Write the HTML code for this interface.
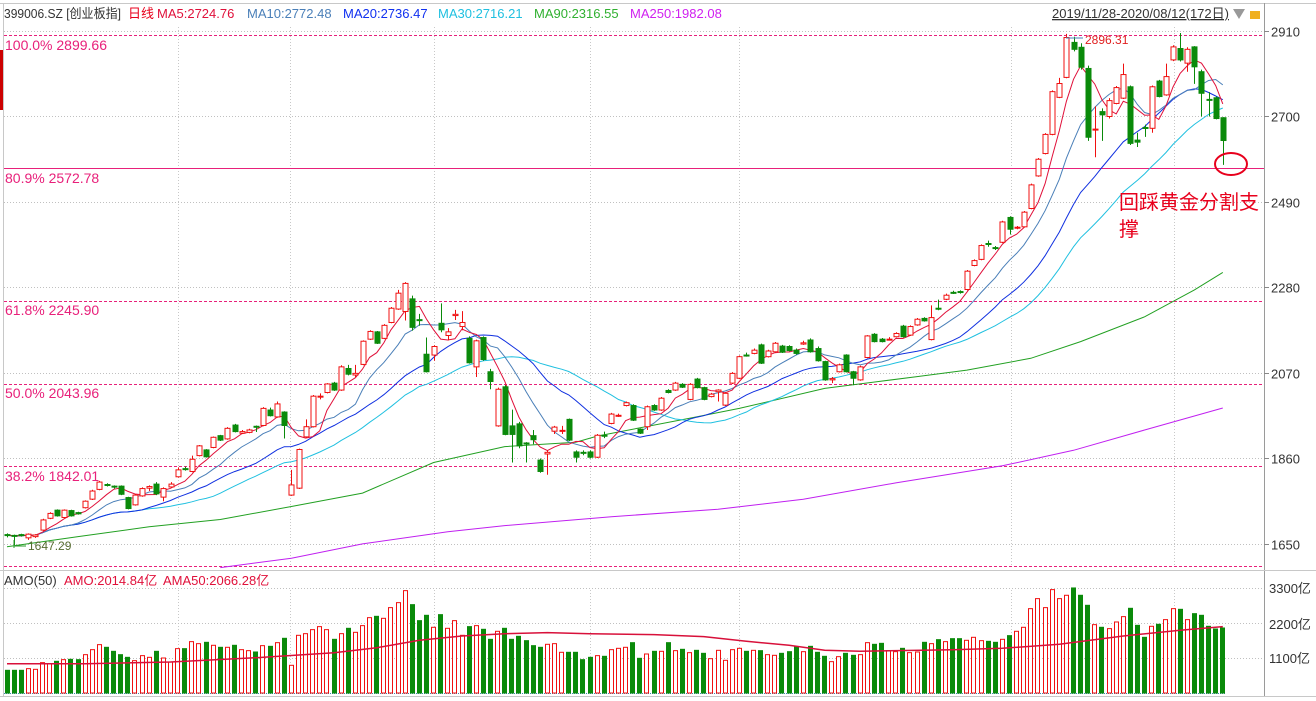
<!DOCTYPE html>
<html><head><meta charset="utf-8"><style>
html,body{margin:0;padding:0;background:#fff;}
svg{display:block;font-family:"Liberation Sans","Noto Sans CJK SC",sans-serif;}
</style></head><body>
<svg id="c" width="1316" height="701" viewBox="0 0 1316 701" xmlns="http://www.w3.org/2000/svg">
<rect x="0" y="0" width="1316" height="701" fill="#fff"/>
<line x1="0" y1="3.5" x2="1316" y2="3.5" stroke="#c8c8c8"/>
<line x1="3.5" y1="3" x2="3.5" y2="697" stroke="#c8c8c8"/>
<line x1="1264.5" y1="3" x2="1264.5" y2="697" stroke="#9a9a9a"/>
<line x1="0" y1="570.5" x2="1316" y2="570.5" stroke="#c8c8c8"/>
<line x1="0" y1="696.5" x2="1316" y2="696.5" stroke="#c8c8c8"/>
<rect x="0" y="50" width="3" height="60" fill="#c00"/>
<g id="grid"></g>
<g id="fib"></g>
<g id="vol"></g>
<g id="ma"></g>
<g id="candles"></g>
<g font-size="13">
<text x="4" y="18" fill="#333" textLength="117" lengthAdjust="spacingAndGlyphs">399006.SZ [创业板指]</text>
<text x="128" y="18" fill="#e8001c">日线</text>
<text x="157" y="18" fill="#e0103a">MA5:2724.76</text>
<text x="247" y="18" fill="#4a7fb8">MA10:2772.48</text>
<text x="343" y="18" fill="#1030f0">MA20:2736.47</text>
<text x="438" y="18" fill="#20c0e0">MA30:2716.21</text>
<text x="534" y="18" fill="#30b030">MA90:2316.55</text>
<text x="630" y="18" fill="#d020f0">MA250:1982.08</text>
<text x="1052" y="18" fill="#333" text-decoration="underline" textLength="177" lengthAdjust="spacingAndGlyphs">2019/11/28-2020/08/12(172日)</text>
<path d="M1233 9 L1245 9 L1239 19 Z" fill="#999"/>
<rect x="1250" y="11" width="10" height="8" fill="#f0b020"/>
</g>
<g font-size="13" fill="#333" id="paxis"></g>
<g font-size="14" fill="#e8207a">
<text x="5" y="50">100.0%  2899.66</text>
<text x="5" y="183">80.9%  2572.78</text>
<text x="5" y="315">61.8%  2245.90</text>
<text x="5" y="398">50.0%  2043.96</text>
<text x="5" y="481">38.2%  1842.01</text>
</g>
<g>
<line x1="14" y1="540" x2="14" y2="548" stroke="#2a9a2a"/><line x1="14" y1="546" x2="26" y2="546" stroke="#2a9a2a"/>
<text x="28" y="550" font-size="12" fill="#556b2f">1647.29</text>
</g>
<g>
<line x1="1066" y1="38" x2="1083" y2="38" stroke="#4a7fb8"/>
<text x="1085" y="44" font-size="12" fill="#e02020">2896.31</text>
</g>
<ellipse cx="1231" cy="164" rx="16" ry="11" fill="none" stroke="#e8001c" stroke-width="2"/>
<text x="1119" y="209" font-size="20" fill="#e8001c">回踩黄金分割支</text>
<text x="1119" y="236" font-size="20" fill="#e8001c">撑</text>
<g font-size="13">
<text x="4" y="585" fill="#333">AMO(50)</text>
<text x="64" y="585" fill="#e0103a">AMO:2014.84亿</text>
<text x="163" y="585" fill="#e0103a">AMA50:2066.28亿</text>
</g>
<g font-size="13" fill="#333">
<text x="1269" y="593">3300亿</text>
<text x="1269" y="629">2200亿</text>
<text x="1269" y="663">1100亿</text>
</g>
</svg>
<script>
const opens=[1673,1671,1673,1665,1668,1684,1713,1733,1715,1732,1727,1739,1760,1784,1796,1792,1792,1764,1746,1768,1787,1797,1765,1790,1815,1835,1828,1867,1881,1887,1916,1908,1942,1922,1924,1939,1941,1979,1962,1974,1770,1787,1913,1938,2012,2022,2045,2028,2081,2065,2091,2153,2171,2155,2194,2227,2221,2252,2201,2116,2114,2192,2162,2211,2184,2155,2085,2157,2073,1940,2036,1940,1945,1898,1916,1856,1871,1927,1927,1956,1876,1875,1876,1863,1917,1946,1964,1990,1990,1932,1938,1990,1979,2027,2028,2042,2005,2055,2034,2012,2024,1991,2045,2057,2114,2118,2139,2110,2122,2136,2135,2126,2141,2151,2130,2098,2053,2073,2114,2073,2053,2108,2165,2153,2152,2159,2185,2163,2188,2204,2152,2229,2251,2268,2270,2275,2334,2349,2388,2378,2391,2452,2426,2429,2474,2554,2609,2656,2747,2796,2882,2870,2818,2667,2712,2700,2732,2745,2773,2642,2673,2671,2787,2753,2839,2867,2831,2871,2810,2742,2746,2697];
const closes=[1671,1669,1671,1674,1672,1709,1725,1719,1733,1719,1724,1755,1780,1802,1794,1790,1772,1737,1770,1786,1791,1773,1786,1797,1832,1833,1858,1891,1864,1912,1905,1934,1926,1926,1930,1937,1983,1965,1994,1941,1795,1882,1938,2013,2013,2043,2028,2085,2067,2069,2148,2172,2143,2187,2229,2266,2290,2182,2200,2073,2135,2176,2171,2214,2194,2095,2149,2103,2049,2030,1919,1919,1891,1896,1906,1828,1875,1937,1929,1905,1863,1873,1863,1917,1915,1969,1966,1997,1954,1922,1987,1979,2008,2022,2045,2035,2042,2034,2005,2018,2028,2020,2069,2110,2112,2126,2094,2124,2143,2121,2125,2118,2144,2122,2100,2053,2056,2090,2073,2057,2085,2161,2147,2147,2153,2167,2159,2184,2202,2198,2206,2227,2261,2266,2268,2320,2346,2383,2386,2376,2441,2423,2428,2465,2532,2595,2656,2761,2781,2894,2865,2821,2649,2669,2704,2739,2771,2803,2634,2637,2671,2773,2749,2798,2871,2839,2865,2822,2757,2740,2695,2641];
const highs=[1676,1673,1675,1676,1674,1712,1728,1735,1735,1734,1729,1757,1783,1805,1799,1794,1794,1766,1773,1789,1794,1802,1789,1802,1838,1840,1867,1893,1883,1914,1918,1937,1945,1930,1933,1941,1986,1985,2000,1976,1832,1884,1956,2016,2020,2045,2048,2089,2090,2090,2150,2175,2173,2190,2232,2274,2293,2260,2215,2157,2138,2241,2180,2225,2222,2160,2152,2160,2080,2034,2040,1980,1950,1900,1930,1860,1880,1940,1940,1958,1880,1880,1880,1920,1926,1972,1970,2000,1993,1934,1990,1993,2011,2030,2048,2045,2045,2058,2036,2021,2030,2023,2072,2113,2120,2130,2142,2127,2146,2139,2138,2130,2149,2155,2135,2100,2060,2093,2116,2075,2088,2163,2168,2156,2158,2170,2188,2187,2205,2207,2236,2250,2265,2272,2273,2323,2349,2386,2395,2382,2444,2455,2431,2468,2535,2598,2659,2764,2795,2903,2896,2880,2825,2725,2720,2745,2775,2830,2776,2660,2680,2776,2790,2830,2875,2905,2870,2873,2815,2760,2749,2698];
const lows=[1666,1647,1668,1660,1665,1682,1711,1717,1713,1717,1722,1737,1758,1782,1791,1786,1770,1735,1744,1766,1780,1770,1755,1788,1813,1830,1826,1865,1862,1885,1903,1906,1924,1920,1922,1925,1939,1963,1960,1909,1768,1785,1911,1936,2005,2020,2026,2026,2064,2060,2089,2151,2141,2153,2192,2225,2199,2174,2186,2071,2100,2170,2150,2200,2175,2093,2060,2100,2030,1938,1917,1850,1885,1850,1895,1825,1820,1920,1920,1903,1850,1868,1860,1861,1910,1944,1962,1988,1952,1920,1930,1977,1977,2020,2026,2033,2003,2032,2003,2010,2000,1989,2043,2055,2110,2116,2092,2108,2120,2119,2123,2115,2139,2120,2098,2051,2045,2071,2071,2040,2051,2106,2145,2145,2150,2157,2157,2161,2186,2196,2150,2224,2249,2264,2265,2273,2332,2347,2380,2372,2389,2410,2423,2427,2472,2552,2607,2654,2745,2794,2860,2815,2640,2600,2640,2695,2730,2743,2630,2625,2650,2660,2747,2751,2836,2835,2810,2780,2700,2700,2693,2581];
const volumes=[713,713,713,765,744,954,922,996,1048,1058,1048,1205,1362,1520,1436,1310,1205,1121,1017,1174,1121,1310,1100,975,1394,1394,1614,1551,1593,1499,1436,1436,1499,1362,1331,1289,1488,1467,1582,1719,870,1813,1865,1991,2086,1991,1687,1865,2033,1907,2117,2368,2410,2347,2683,2840,3217,2777,2274,2442,2065,2463,2033,2274,1813,2086,2117,2002,1687,1939,2033,1687,1782,1645,1488,1436,1530,1551,1279,1279,1279,1048,1121,1174,1153,1362,1404,1436,1582,1090,1226,1310,1310,1582,1331,1373,1268,1341,1247,1079,1341,1027,1362,1404,1310,1341,1331,1205,1184,1247,1299,1456,1299,1467,1279,1153,985,1142,1247,1184,1205,1582,1530,1561,1331,1299,1404,1268,1289,1593,1551,1677,1614,1708,1708,1656,1750,1645,1624,1593,1687,1803,1939,2065,2651,2966,2683,3249,2966,3071,3301,3071,2756,2148,2065,2023,2232,2400,2662,2127,1750,2096,2159,2306,2651,2630,2306,2494,2442,2096,2012,2043];
const ma90Idx=[0,10,20,30,40,50,60,70,80,83,96,103,115,128,135,144,151,160,167,171];
const ma90Val=[1643,1668,1692,1710,1742,1775,1850,1889,1900,1915,1959,1983,2032,2061,2077,2106,2147,2208,2274,2317];
const ma250Idx=[30,40,50,62,70,85,100,112,125,140,150,160,171];
const ma250Val=[1592,1615,1650,1680,1695,1717,1735,1760,1800,1842,1880,1930,1984];
const amaIdx=[0,11,23,35,46,52,58,64,70,76,82,91,98,104,110,115,120,133,140,148,157,165,171];
const amaVal=[922,922,975,1110,1268,1425,1655,1792,1865,1897,1865,1834,1771,1624,1499,1341,1310,1362,1404,1530,1792,1970,2086];
const priceTicks=[2910,2700,2490,2280,2070,1860,1650];
const fibLevels=[2899.66,2245.90,2043.96,1842.01];
const fib809=2572.78;
const volTicks=[3300,2200,1100];

const NS='http://www.w3.org/2000/svg';
const xI=i=>7+7.11*i;
const yP=p=>31+(2910-p)*0.4071;
const yV=v=>693-v*35/1100;
function mk(tag,attrs,parent){const e=document.createElementNS(NS,tag);for(const k in attrs)e.setAttribute(k,attrs[k]);parent.appendChild(e);return e;}
const grid=document.getElementById('grid');
const fib=document.getElementById('fib');
const vol=document.getElementById('vol');
const ma=document.getElementById('ma');
const cg=document.getElementById('candles');
const pax=document.getElementById('paxis');

[178,290,434,590,739,1011,1174].forEach(x=>{
  const l=mk('line',{x1:x+.5,y1:27,x2:x+.5,y2:566,stroke:'#c8c8c8','stroke-dasharray':'1,2'},grid);
  
  
  const l2=mk('line',{x1:x+.5,y1:590,x2:x+.5,y2:693,stroke:'#c8c8c8','stroke-dasharray':'1,2'},grid);
  
  
});
priceTicks.forEach(p=>{
  const y=Math.round(yP(p))+.5;
  const l=mk('line',{x1:4,y1:y,x2:1264,y2:y,stroke:'#c0c0c0','stroke-dasharray':'1,2'},grid);
  
  
  mk('line',{x1:1264,y1:y,x2:1269,y2:y,stroke:'#888'},grid);
  const t=mk('text',{x:1271,y:y+5},pax);t.textContent=p;
  
  
});
volTicks.forEach(v=>{
  const y=Math.round(yV(v))+.5;
  const l=mk('line',{x1:4,y1:y,x2:1264,y2:y,stroke:'#c0c0c0','stroke-dasharray':'1,2'},grid);
  
  
});
const bl=mk('line',{x1:4,y1:693.5,x2:1226,y2:693.5,stroke:'#3a8ab0','stroke-dasharray':'1,1'},grid);



fibLevels.forEach(p=>{
  const y=Math.round(yP(p))+.5;
  const l=mk('line',{x1:4,y1:y,x2:1262,y2:y,stroke:'#e8207a','stroke-dasharray':'3,2'},fib);
  
  
});
const bd=mk('line',{x1:4,y1:566.5,x2:1262,y2:566.5,stroke:'#e8207a','stroke-dasharray':'3,2'},fib);


const f8=mk('line',{x1:4,y1:Math.round(yP(fib809))+.5,x2:1264,y2:Math.round(yP(fib809))+.5,stroke:'#e8207a'},fib);



volumes.forEach((v,i)=>{
  const up=closes[i]>=opens[i];
  const x=xI(i);
  const r=mk('rect',{x:Math.round(x-2.5)+.5,y:yV(v),width:4,height:693-yV(v),fill:up?'#fff':'#0a8a0a',stroke:up?'#f01010':'#0a8a0a','stroke-width':1},vol);
  
  
});
const ap=amaIdx.map((k,j)=>xI(k).toFixed(1)+','+yV(amaVal[j]).toFixed(1)).join(' ');
const al=mk('polyline',{points:ap,fill:'none',stroke:'#d8103a','stroke-width':1.5},vol);



function maLine(n,color,name,w){
  const pts=[];
  for(let i=0;i<closes.length;i++){
    const s=Math.max(0,i-n+1);let sum=0;
    for(let k=s;k<=i;k++)sum+=closes[k];
    pts.push(xI(i).toFixed(1)+','+yP(sum/(i-s+1)).toFixed(1));
  }
  const l=mk('polyline',{points:pts.join(' '),fill:'none',stroke:color,'stroke-width':w||1},ma);
  
  
}
function sparseLine(idx,val,color,name){
  const pts=idx.map((k,j)=>xI(k).toFixed(1)+','+yP(val[j]).toFixed(1)).join(' ');
  const l=mk('polyline',{points:pts,fill:'none',stroke:color,'stroke-width':1},ma);
  
  
}
sparseLine(ma250Idx,ma250Val,'#c020f0','ma250-line');
sparseLine(ma90Idx,ma90Val,'#22a022','ma90-line');
maLine(30,'#20c0e0','ma30-line');
maLine(20,'#1030e0','ma20-line');
maLine(10,'#4a7fb8','ma10-line');
maLine(5,'#e0103a','ma5-line');

opens.forEach((o,i)=>{
  const c=closes[i],h=highs[i],l=lows[i];
  const up=c>=o;
  const col=up?'#f01010':'#0a8a0a';
  const x=Math.round(xI(i))+.5;
  const w=mk('line',{x1:x,y1:yP(h),x2:x,y2:yP(l),stroke:col},cg);
  
  
  const top=yP(Math.max(o,c)),bot=yP(Math.min(o,c));
  const b=mk('rect',{x:x-2.5,y:top,width:5,height:Math.max(1,bot-top),fill:up?'#fff':col,stroke:col},cg);
  
  
});
</script>
</body></html>
